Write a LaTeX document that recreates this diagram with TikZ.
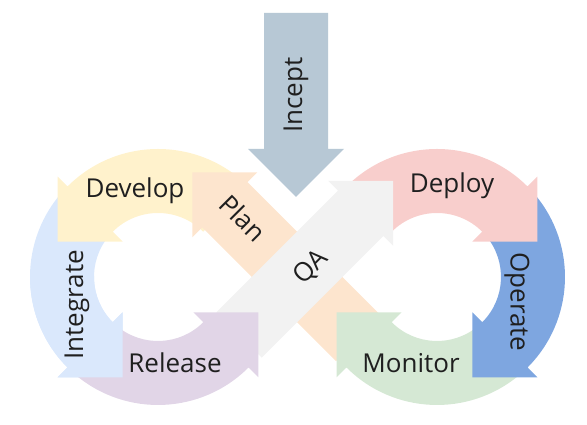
\documentclass[tikz,border=0pt]{standalone}
\usepackage{fontspec}
\setmainfont{Open Sans}
\usetikzlibrary{calc}
\definecolor{inceptc}{HTML}{B7C8D5}
\definecolor{planc}{HTML}{FDE5CE}
\definecolor{qac}{HTML}{F2F2F2}
\definecolor{developc}{HTML}{FFF2CC}
\definecolor{integratec}{HTML}{DAE8FC}
\definecolor{releasec}{HTML}{E1D5E7}
\definecolor{deployc}{HTML}{F8CECC}
\definecolor{operatec}{HTML}{7EA6E0}
\definecolor{monitorc}{HTML}{D5E8D4}
\tikzset{lbl/.style = {font=\fontsize{26}{30}\selectfont, text=black!88, inner sep=0pt},
         gap/.style = {preaction={draw=white, line width=16pt, line join=miter}}}
% ring piece: colour, centre, tail angle, head angle, turn (1 ccw, -1 cw)
\newcommand{\ringarrow}[5]{%
  \fill[#1]($(#2)+(#3:128)$) arc[start angle=#3, end angle=#4, radius=128]
    --($(#2)+(#4:142)$)--($(#2)+(#4:96)+({#4+(#5)*90}:46)$)--($(#2)+(#4:50)$)
    --($(#2)+(#4:64)$) arc[start angle=#4, end angle=#3, radius=64]--cycle;}
% straight arrow: colour, tail, direction, length, half head
\newcommand{\blockarrow}[5]{%
  \fill[#1]($(#2)+({#3+90}:32)$)--($(#2)+(#3:{#4-#5})+({#3+90}:32)$)
    --($(#2)+(#3:{#4-#5})+({#3+90}:#5)$)--($(#2)+(#3:#4)$)
    --($(#2)+(#3:{#4-#5})+({#3-90}:#5)$)--($(#2)+(#3:{#4-#5})+({#3-90}:32)$)
    --($(#2)+({#3-90}:32)$)--cycle;}

\begin{document}
\begin{tikzpicture}[x=1pt,y=1pt]
    \useasboundingbox(0,0)rectangle(587,425);
    \coordinate(c1)at(158,148);
    \coordinate(c2)at(437,148);
    \coordinate(o)at(297,148);
    \coordinate(plantail)at($(o)+(-45:87)$);
    \coordinate(qatail)at($(o)+(225:82)$);
    \coordinate(incepttail)at(296,412);
    \ringarrow{integratec}{c1}{140}{225}{1}
    \ringarrow{developc}{c1}{45}{135}{1}
    \blockarrow{planc}{plantail}{135}{235}{46}
    \ringarrow{monitorc}{c2}{-50}{-135}{-1}
    \ringarrow{operatec}{c2}{40}{-45}{-1}
    \ringarrow{deployc}{c2}{135}{45}{-1}
    \blockarrow{qac}{qatail}{45}{218}{46}
    \ringarrow{releasec}{c1}{230}{315}{1}
    \begin{scope}
        \clip(0,0)rectangle(c1);
        \ringarrow{integratec}{c1}{140}{225}{1}
    \end{scope}
    \blockarrow{inceptc,gap}{incepttail}{-90}{184}{48}
    \node[lbl,rotate=90](incept)at(296,330){Incept};
    \node[lbl](develop)at(135,234){Develop};
    \node[lbl,rotate=-45](plan)at(243,207){Plan};
    \node[lbl,rotate=90](integrate)at(77,120){Integrate};
    \node[lbl](release)at(175,62){Release};
    \node[lbl,rotate=45](qa)at(311,157){QA};
    \node[lbl](deploy)at(452,239){Deploy};
    \node[lbl,rotate=-90](operate)at(517,123){Operate};
    \node[lbl](monitor)at(411,62){Monitor};
\end{tikzpicture}
\end{document}
